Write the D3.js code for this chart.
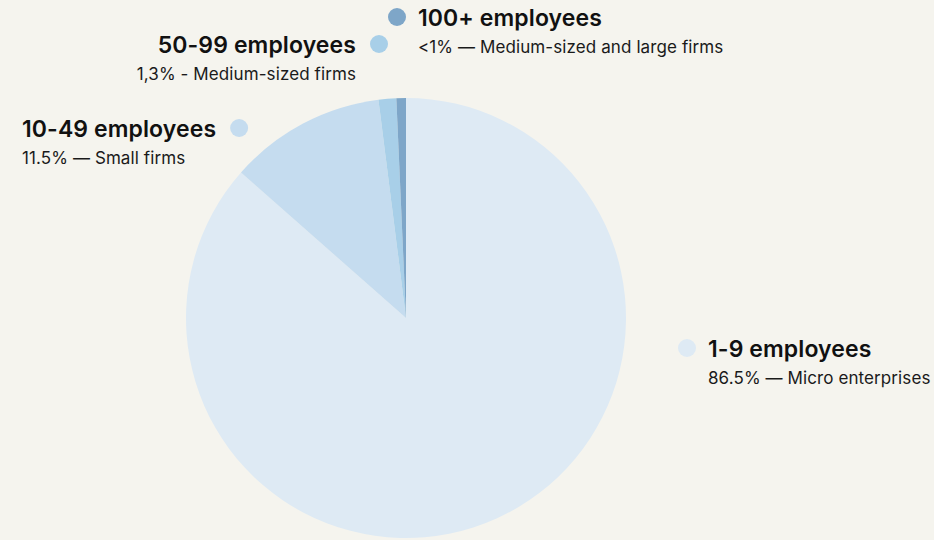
<!DOCTYPE html>
<html>
<head>
<meta charset="utf-8">
<script src="https://cdn.jsdelivr.net/npm/d3@7"></script>
<style>
  html, body { margin: 0; padding: 0; background: #f5f4ee; }
  svg { display: block; }
  .title { font-family: Inter, "Noto Sans", sans-serif; font-weight: 600; font-size: 23px; letter-spacing: 0.1px; fill: #111; }
  .sub { font-family: Inter, "Noto Sans", sans-serif; font-weight: 400; font-size: 17px; letter-spacing: 0.1px; fill: #1a1a1a; }
</style>
</head>
<body>
<svg id="chart" width="934" height="540"></svg>
<script>
// Firm size classes, share of enterprises (%)
const categories = ["1-9 employees", "10-49 employees", "50-99 employees", "100+ employees"];
const shares = [86.5, 11.5, 1.3, 0.7];
const descriptions = ["86.5% — Micro enterprises", "11.5% — Small firms", "1,3% - Medium-sized firms", "<1% — Medium-sized and large firms"];
const colors = ["#deeaf4", "#c5dcef", "#a8cfe8", "#7ea6c8"];

// Label placement per class: anchor point of the title, text alignment, dot side
const labelLayout = [
  { x: 708, y: 357, anchor: "start", dot: "left" },
  { x: 22,  y: 137, anchor: "start", dot: "right" },
  { x: 356, y: 53,  anchor: "end",   dot: "right" },
  { x: 418, y: 26,  anchor: "start", dot: "left" }
];

const svg = d3.select("#chart");
const cx = 406, cy = 318, radius = 220;

const data = categories.map((c, i) => ({ category: c, value: shares[i], desc: descriptions[i], layout: labelLayout[i] }));

const pie = d3.pie().sort(null).value(d => d.value).startAngle(0).endAngle(2 * Math.PI);
const arc = d3.arc().innerRadius(0).outerRadius(radius);

const color = d3.scaleOrdinal().domain(categories).range(colors);

svg.append("g")
  .attr("transform", `translate(${cx},${cy})`)
  .selectAll("path")
  .data(pie(data))
  .join("path")
  .attr("d", arc)
  .attr("fill", d => color(d.data.category));

// Legend-style labels
const labels = svg.append("g").selectAll("g")
  .data(data)
  .join("g");

labels.each(function(d) {
  const g = d3.select(this);
  const L = d.layout;
  const t = g.append("text")
    .attr("class", "title")
    .attr("x", L.x)
    .attr("y", L.y)
    .attr("text-anchor", L.anchor)
    .text(d.category);
  g.append("text")
    .attr("class", "sub")
    .attr("x", L.x)
    .attr("y", L.y + 27)
    .attr("text-anchor", L.anchor)
    .text(d.desc);
  const bb = t.node().getBBox();
  const dotX = L.dot === "left" ? bb.x - 21 : bb.x + bb.width + 23;
  g.append("circle")
    .attr("cx", dotX)
    .attr("cy", L.y - 9)
    .attr("r", 9)
    .attr("fill", color(d.category));
});
</script>
</body>
</html>
